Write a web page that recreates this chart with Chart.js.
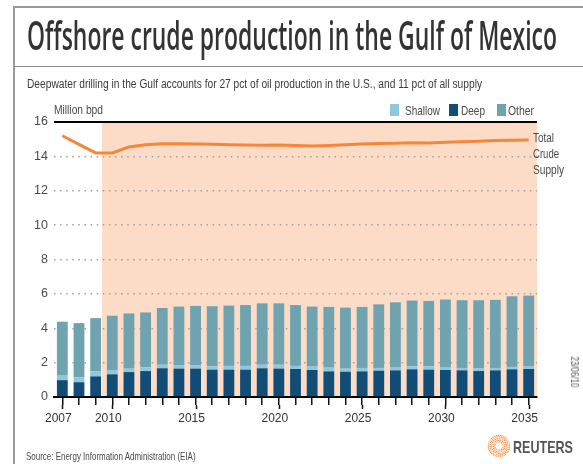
<!DOCTYPE html>
<html>
<head>
<meta charset="utf-8">
<script src="https://cdn.jsdelivr.net/npm/chart.js@4.4.1/dist/chart.umd.min.js"></script>
<style>
html,body{margin:0;padding:0;background:#fff;}
#wrap{position:relative;width:583px;height:464px;overflow:hidden;background:#fff;}
#c{position:absolute;left:0;top:0;}
.t{position:absolute;white-space:nowrap;transform-origin:0 0;margin:0;padding:0;}
.rule{position:absolute;background:#9a9a9a;}
.box{position:absolute;}
</style>
</head>
<body>
<div id="wrap">
  <canvas id="c" width="583" height="464"></canvas>
  <div class="rule" style="left:13px;top:6px;width:570px;height:1.5px;"></div>
  <div class="rule" style="left:13px;top:6px;width:1.5px;height:458px;"></div>
  <div class="rule" style="left:13px;top:66px;width:570px;height:1px;background:#8c8c8c;"></div>
</div>
<script>
// ---------------- DATA ----------------
const years = ['2007','2008','2009','2010','2011','2012','2013','2014','2015','2016',
  '2017','2018','2019','2020','2021','2022','2023','2024','2025','2026',
  '2027','2028','2029','2030','2031','2032','2033','2034','2035'];
const labeledYears = ['2007','2010','2015','2020','2025','2030','2035'];
const seriesNames = ['Shallow','Deep','Other'];
const deepwater = [0.98,0.86,1.20,1.32,1.45,1.51,1.67,1.65,1.65,1.59,
  1.59,1.59,1.67,1.65,1.63,1.57,1.49,1.47,1.49,1.53,
  1.55,1.61,1.59,1.57,1.55,1.51,1.55,1.61,1.63];
const shallowWater = [0.30,0.28,0.29,0.25,0.20,0.22,0.21,0.20,0.20,0.20,
  0.22,0.22,0.21,0.23,0.18,0.20,0.22,0.18,0.20,0.16,
  0.16,0.18,0.20,0.14,0.14,0.16,0.14,0.14,0.14];
const otherSupply = [3.10,3.16,3.10,3.16,3.21,3.19,3.30,3.41,3.45,3.49,
  3.51,3.54,3.57,3.57,3.54,3.49,3.53,3.55,3.55,3.70,
  3.80,3.82,3.80,3.96,3.94,3.96,3.96,4.11,4.13];
const totalCrudeSupply = [15.2,14.7,14.2,14.2,14.55,14.67,14.73,14.73,14.72,14.70,
  14.68,14.66,14.65,14.66,14.63,14.60,14.63,14.68,14.72,14.75,
  14.77,14.79,14.78,14.82,14.85,14.88,14.92,14.94,14.95];
const yTickValues = [0,2,4,6,8,10,12,14,16];
const lastHistoricalYear = '2009';

// ---------------- STYLE ----------------
const COL = {Shallow:'#8fc7df', Deep:'#114d76', Other:'#6fa3b0', line:'#f5873a', shade:'#fcdcc6'};

function hasFont(f){
  const c=document.createElement('canvas').getContext('2d');
  c.font='40px monospace'; const a=c.measureText('abcdefgh2007 Wxyz').width;
  c.font='40px "'+f+'", monospace'; return c.measureText('abcdefgh2007 Wxyz').width!==a;
}
const hasNarrow = hasFont('Liberation Sans Narrow');
const SANS = '"Liberation Sans", Arial, Helvetica, sans-serif';

// HTML text placement helper: x = left, baseline y, optional target width (scaleX fit)
const mctx = document.createElement('canvas').getContext('2d');
const wrap = document.getElementById('wrap');
function addText(text, o){
  const el = document.createElement('div');
  el.className='t';
  el.textContent=text;
  const font = (o.weight||'normal')+' '+o.size+'px '+(o.family||SANS);
  mctx.font = font;
  const m = mctx.measureText(text);
  const asc = m.fontBoundingBoxAscent, desc = m.fontBoundingBoxDescent;
  el.style.font = font;
  el.style.lineHeight = (asc+desc)+'px';
  el.style.color = o.color||'#444';
  const sx = o.width ? o.width/m.width : 1;
  if (o.rotate){
    el.style.left = o.cx+'px'; el.style.top = o.cy+'px';
    el.style.transform = 'rotate(90deg) scaleX('+sx+') translate('+(-m.width/2)+'px,'+(-(asc+desc)/2)+'px)';
  } else {
    el.style.left = o.x+'px';
    el.style.top = (o.y-asc)+'px';
    el.style.transform = 'scaleX('+sx+')';
  }
  wrap.appendChild(el);
  return el;
}

addText('Offshore crude production in the Gulf of Mexico',
  {x:27, y:50, size:39, weight:'600', family:'"Open Sans", "Noto Sans", sans-serif', color:'#333', width:530});
addText('Deepwater drilling in the Gulf accounts for 27 pct of oil production in the U.S., and 11 pct of all supply',
  {x:27, y:88, size:12.5, color:'#3c3c3c', width:455});
addText('Million bpd', {x:54, y:114, size:12, color:'#4a4a4a', width:49});

// legend (from series names and colours)
const legendPos = [{bx:390, tx:405, w:35},{bx:449, tx:461, w:24},{bx:497, tx:508, w:26}];
seriesNames.forEach((n,i)=>{
  const b=document.createElement('div'); b.className='box';
  b.style.cssText='left:'+legendPos[i].bx+'px;top:104px;width:9px;height:12px;background:'+COL[n]+';';
  wrap.appendChild(b);
  addText(n,{x:legendPos[i].tx, y:115, size:13, color:'#4a4a4a', width:legendPos[i].w});
});

addText('Total', {x:533, y:141.5, size:13, color:'#4a4a4a', width:21});
addText('Crude', {x:533, y:157.5, size:13, color:'#4a4a4a', width:26});
addText('Supply', {x:533, y:173.5, size:13, color:'#4a4a4a', width:31});
addText('23/06/10', {rotate:true, cx:575, cy:372, size:11, color:'#555', width:31});
addText('Source: Energy Information Administration (EIA)', {x:26, y:460, size:10.5, color:'#4a4a4a', width:170});
addText('REUTERS', {x:513, y:452.5, size:17, weight:'bold', color:'#555', width:60});

// ---------------- PLUGINS ----------------
const forecastShade = {
  id:'forecastShade',
  beforeDraw(chart){
    const {ctx, chartArea:a} = chart;
    const meta = chart.getDatasetMeta(1);   // first bar dataset
    const bar = meta.data[years.indexOf(lastHistoricalYear)];
    if(!bar) return;
    const props = bar.getProps(['x','width'], true);
    const x0 = props.x + props.width/2 + 1;
    ctx.save(); ctx.fillStyle = COL.shade;
    ctx.fillRect(x0, a.top, a.right - x0, a.bottom - a.top);
    ctx.restore();
  }
};
const majorTicks = {
  id:'majorTicks',
  afterDraw(chart){
    const {ctx, chartArea:a} = chart; const x = chart.scales.x;
    ctx.save(); ctx.strokeStyle='#111'; ctx.lineWidth=1.5;
    labeledYears.forEach(y=>{
      const px = Math.round(x.getPixelForValue(years.indexOf(y)))+0.5;
      ctx.beginPath(); ctx.moveTo(px, a.bottom+8); ctx.lineTo(px, a.bottom+12); ctx.stroke();
    });
    // Reuters logo (decorative dotted disc)
    const cx=499, cy=446;
    ctx.fillStyle = '#f0883e';
    [4.2,5.8,7.4,9.0,10.6].forEach((r,k)=>{
      const n = Math.round(2*Math.PI*r/1.9);
      for(let i=0;i<n;i++){
        const t = i/n*2*Math.PI + k*0.4;
        ctx.globalAlpha = 0.55 + 0.45*Math.abs(Math.sin(t*1.5 + k));
        ctx.beginPath(); ctx.arc(cx+r*Math.cos(t), cy+r*Math.sin(t), 0.75, 0, 2*Math.PI); ctx.fill();
      }
    });
    ctx.restore();
  }
};

// ---------------- CHART ----------------
const xFont = hasNarrow ? {family:'"Liberation Sans Narrow"', size:13.5} : {family:SANS, size:12};
new Chart(document.getElementById('c'), {
  data:{
    labels: years,
    datasets:[
      {type:'line', label:'Total Crude Supply', data: totalCrudeSupply, borderColor: COL.line,
        borderWidth:3, pointRadius:0, tension:0, stack:'supply', order:0, fill:false},
      {type:'bar', label:'Deep', data: deepwater, backgroundColor: COL.Deep, stack:'gulf', order:1},
      {type:'bar', label:'Shallow', data: shallowWater, backgroundColor: COL.Shallow, stack:'gulf', order:1},
      {type:'bar', label:'Other', data: otherSupply, backgroundColor: COL.Other, stack:'gulf', order:1}
    ]
  },
  options:{
    responsive:false, animation:false, devicePixelRatio:1,
    layout:{padding:{left:14, right:46, top:122, bottom:37}},
    datasets:{bar:{barPercentage:0.65, categoryPercentage:1.0, borderWidth:0}},
    plugins:{legend:{display:false}, tooltip:{enabled:false}, title:{display:false}},
    scales:{
      x:{
        stacked:true, offset:true,
        afterFit(s){ s.height = 30; },
        grid:{display:true, drawOnChartArea:false, drawTicks:true, tickLength:8, offset:false,
          color:'#111', lineWidth:1.5},
        border:{display:true, color:'#000', width:2},
        ticks:{autoSkip:false, maxRotation:0, minRotation:0, padding:6, labelOffset:-4,
          color:'#333', font:xFont,
          callback(v,i){ return labeledYears.includes(years[i]) ? years[i] : ''; }}
      },
      y:{
        stacked:true, min:0, max:16,
        afterFit(s){ s.width = 40; },
        afterBuildTicks(s){ s.ticks = yTickValues.map(v=>({value:v})); },
        grid:{drawTicks:false,
          color(ctx){ const v=ctx.tick&&ctx.tick.value; return v===0 ? 'rgba(0,0,0,0)' : (v===16 ? '#000' : '#a0a0a0'); },
          lineWidth(ctx){ return ctx.tick&&ctx.tick.value===16 ? 2 : 1.5; }},
        border:{display:false, dash(ctx){ return ctx.tick&&ctx.tick.value===16 ? [] : [1.5,4.6]; }},
        ticks:{padding:6, color:'#4a4a4a', font:{family:SANS, size:12.5}}
      }
    }
  },
  plugins:[forecastShade, majorTicks]
});
</script>
</body>
</html>
